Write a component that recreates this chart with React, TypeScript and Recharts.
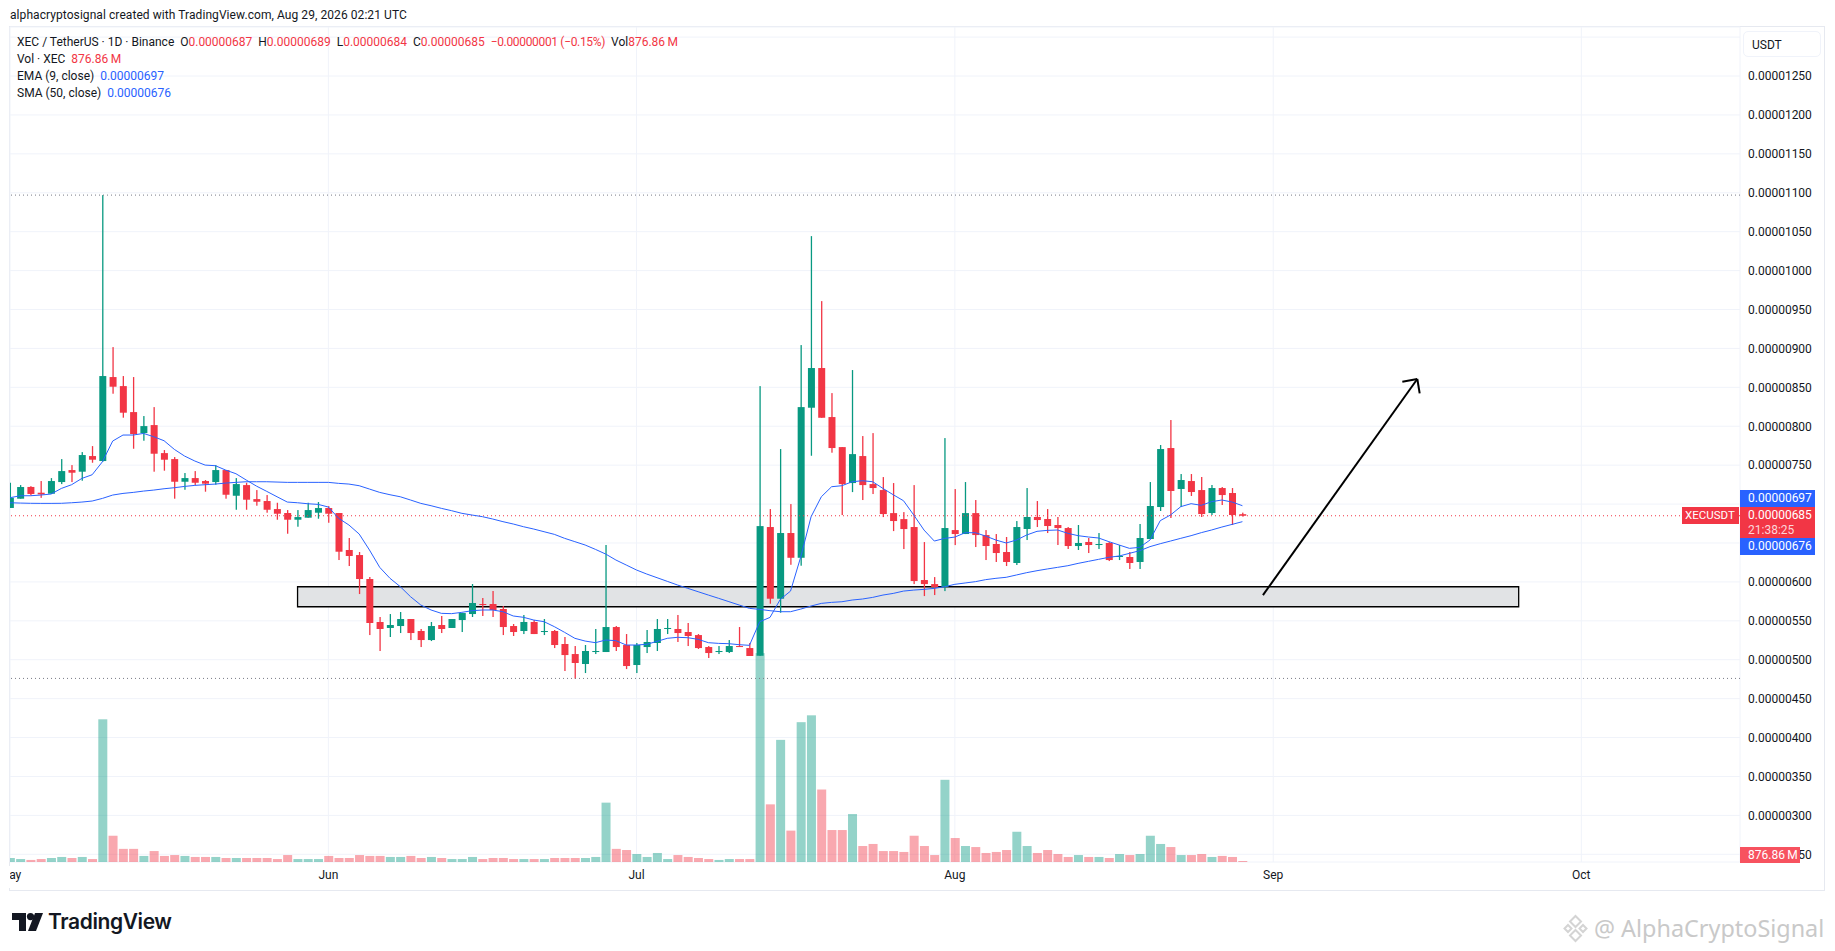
import {
	ComposedChart,
	Bar,
	Line,
	XAxis,
	YAxis,
	CartesianGrid,
	ReferenceLine,
	ReferenceArea,
} from "recharts";

// prices are in units of 0.00000001, one entry per day starting on May 1
const opens = [
	695, 706.9, 722, 714.6, 713.3, 728.3, 743.7, 741.6, 761.7, 755.3, 863.2, 851.6, 818.2, 791.2, 801.5, 765.5, 757.8, 728.7, 733.4, 729.6,
	728.3, 743.7, 710.7, 724.4, 706.4, 703.9, 693.6, 688.5, 679.9, 682.5, 688.9, 694.9, 688.5, 641, 634.5, 603.7, 548.5, 540.8, 543.3, 552.3,
	536.9, 525.3, 544.6, 540.8, 551, 558.7, 571.6, 571.6, 565.2, 543.3, 536.9, 548.5, 535.6, 536.9, 520.2, 507.3, 494.5, 509.9, 509.9, 542,
	518.9, 493.2, 516.3, 521.5, 539.5, 539.5, 535.6, 531.7, 516.3, 509.9, 509.9, 517.6, 515, 505.1, 670.5, 578.4, 662.8, 631, 823.8, 874.8,
	811.8, 773.2, 727, 761.7, 725.7, 718, 688.4, 680.7, 670.5, 602.4, 597.2, 593.4, 666.6, 661.5, 688.4, 660.2, 648.7, 638.4, 624.3, 668,
	683.4, 680.8, 673.1, 669.2, 646.1, 651.3, 647.4, 650, 632, 632, 625.6, 655.1, 696.2, 772, 719.4, 729.6, 718, 688.5, 720.6, 714.2, 687,
];
const highs = [
	727.4, 724.4, 723, 729.6, 733.4, 757.8, 750.1, 766.8, 774.5, 1097, 901.7, 864.5, 863.2, 813.1, 824.6, 769.4, 760.4, 739.9, 742.4, 730.9,
	750.1, 743.7, 733.4, 727.4, 718, 711.6, 701.7, 692.3, 692.3, 701.7, 702.6, 697.4, 688.5, 656.4, 638.4, 606.3, 554.9, 558.7, 561.3, 552.3,
	539.5, 548.5, 556.2, 552.3, 560, 597.3, 579.3, 588.3, 569, 545.9, 557.5, 551, 552.3, 538.2, 529.2, 517.6, 518.9, 539.5, 647.4, 543.3,
	533, 521.5, 538.2, 552.3, 552.3, 557.5, 547.2, 533, 517.6, 517.6, 525.3, 542, 521.5, 851.6, 693.6, 770.7, 700, 904.3, 1044.3, 960.8,
	842.6, 773.2, 872.2, 787.4, 791.2, 734.7, 727, 689.7, 724.4, 651.2, 606.2, 784.8, 719.3, 728.3, 705.2, 666.6, 661.5, 657.7, 678.2, 720.6,
	703.9, 693.6, 683.4, 670.5, 673.1, 656.4, 662.8, 651.3, 647.4, 638.4, 674.4, 728.3, 775.9, 808, 738.6, 738.6, 734.8, 724.5, 721.9, 720.6, 689,
];
const lows = [
	695, 707, 711, 708, 713, 725.7, 728.3, 730, 753.1, 754.4, 841.8, 811, 771.1, 781.4, 741.6, 742.9, 706.9, 718.4, 724.4, 715.9,
	724.9, 706.9, 692.7, 692.7, 697.9, 688.9, 679.9, 661.9, 670.9, 682.5, 681.2, 676, 628.1, 620.4, 584.4, 531.7, 511.2, 529.2, 534.3, 525.3,
	516.3, 524, 534.3, 540.8, 535.6, 554.9, 556.2, 554.9, 531.7, 530.5, 533, 533, 531.7, 515, 485.5, 475.6, 482.9, 507.3, 509.9, 511.2,
	488, 482.9, 508.6, 511.2, 533, 522.8, 517.6, 513.8, 502.2, 507.3, 508.6, 516.3, 504.8, 505, 572, 560.4, 622, 620.8, 762.1, 810.9,
	766, 685.9, 715.4, 705.2, 712.9, 683.3, 665.3, 642.2, 597.2, 581.8, 583.1, 588.2, 647.3, 661.5, 644.8, 628.1, 625.6, 620.4, 621.7, 653.8,
	670.5, 662.8, 647.4, 642.3, 641, 637.1, 642.3, 626.8, 628.1, 616.6, 616.6, 655.1, 691.1, 682.1, 696.2, 710.4, 683.4, 686, 698.8, 673.1, 684,
];
const closes = [
	708.2, 721.9, 713, 712.4, 729.6, 742.4, 740.3, 763, 757, 864.5, 850.8, 817.4, 790, 800.2, 764.7, 757, 728.7, 733.4, 727.4, 726.2,
	743.7, 712, 725.7, 705.6, 703, 692.7, 687.6, 679.9, 683.3, 692.3, 694.9, 687.6, 638.8, 633.3, 603.7, 547.2, 539.5, 544.6, 552.3, 534.3,
	525.3, 543.3, 539.5, 552.3, 560, 572.9, 570.3, 563.9, 542, 535.6, 548.5, 533, 536.9, 518.9, 506, 495.8, 511.2, 511.2, 542, 516.3,
	491.9, 518.9, 522.8, 539.5, 540.8, 534.3, 530.5, 515, 508.6, 511.2, 517.6, 516.3, 504.8, 671.7, 578.4, 662.8, 631, 824.6, 874.8, 810.9,
	772, 725.7, 764.2, 724.4, 720.6, 687.2, 678.2, 667.9, 601.1, 597.2, 593.4, 669.2, 661.5, 688.4, 660.2, 646.1, 637.1, 625.6, 670.5, 683.4,
	679.5, 671.8, 669.2, 646.1, 650, 647.4, 648.7, 628.1, 633.3, 624.3, 656.4, 697.5, 770.7, 716.8, 730.9, 715.5, 687.2, 720.6, 711.6, 686, 685,
];
const ema9 = [
	708.2, 710.7, 710.7, 711.6, 712.9, 720.1, 724.9, 733, 737.7, 754.4, 781, 788.7, 788.7, 790.8, 786.5, 781.4, 770.3, 761.7, 755.3, 750.1,
	749.3, 743.7, 739, 730.9, 723.1, 716.3, 709.4, 702.6, 701.7, 700.4, 699.6, 696.2, 681.7, 673.1, 661.5, 641, 618.7, 604.6, 593.9, 581,
	570.3, 563.9, 559.6, 559.2, 560.9, 563, 563.9, 563.9, 561.7, 556.2, 554.5, 551, 548.9, 542.5, 535.2, 527.5, 524, 521.9, 525.3, 524.5,
	518.9, 518.9, 519.8, 523.6, 527.5, 528.8, 528.3, 526.2, 521.9, 521, 520.6, 519.3, 518.5, 548.8, 554.4, 577.5, 588.2, 632.3, 683.7, 709.4,
	722.3, 723.6, 728.7, 730, 728.7, 720.1, 712, 704.3, 685.9, 666.6, 652.5, 655.9, 657.6, 663.2, 663.2, 658.9, 653.8, 650, 653.8, 660.3,
	665, 666.2, 666.7, 662.4, 659.4, 657.7, 656.4, 651.7, 647.4, 643.1, 644.4, 653.8, 678.7, 686, 696.7, 700.5, 698.4, 703.1, 705.2, 702.6, 697.9,
];
const sma50 = [
	701.7, 701.3, 701, 700.9, 700.9, 701, 701.7, 702.6, 703.9, 707.3, 711.6, 713.7, 715, 716.7, 718, 719.7, 721, 722.7, 724, 724.9,
	725.7, 727, 727.9, 728.7, 728.7, 728.7, 728.3, 727.9, 727.9, 727.9, 727.9, 727.9, 726.6, 725.7, 723.6, 719.3, 715, 712, 709.4, 705.2,
	700.9, 697.9, 694.5, 691.5, 688.1, 685.9, 683.8, 680.8, 677.4, 674.4, 670.9, 667.9, 664.5, 661.1, 656, 651.7, 647.4, 641.8, 635.8, 628.1,
	621.7, 615.3, 610.1, 605.4, 600.7, 596, 591.7, 587.4, 583.1, 578.9, 574.6, 570.3, 566, 564.7, 563, 561.7, 561.7, 565.1, 569, 572.4,
	573.7, 574.5, 576.7, 578, 580.1, 583.1, 585.2, 588.2, 589.5, 590.4, 591.7, 593.8, 596.9, 598.6, 600.3, 602.9, 604.6, 605.9, 608.9, 611.9,
	614.4, 616.6, 618.7, 620.8, 623.8, 626.4, 629, 631.6, 633.3, 636.7, 640.1, 645.3, 649.1, 652.5, 656, 659.4, 663.3, 666.7, 670.5, 673.9, 677.4,
];
// volume in billions of XEC
const volumes = [
	3.5, 2.6, 1.8, 2.6, 3.5, 4.4, 3.5, 4.4, 2.6, 125, 23, 11.5, 11.5, 5.3, 9.6, 5.3, 6.1, 5.3, 4.4, 4.4,
	4.4, 3.5, 3.5, 3.5, 3.5, 3.5, 2.6, 6.1, 2.6, 2.6, 2.6, 5.3, 3.5, 3.5, 6.1, 5.3, 5.3, 4.4, 4.4, 5.3,
	3.5, 4.4, 3.5, 2.6, 2.6, 4.4, 2.6, 3.5, 3.5, 2.6, 2.6, 2.6, 2.6, 3.5, 3.5, 3.5, 3.5, 4.4, 52, 11.5,
	10.5, 7, 4.4, 7.9, 2.6, 6.1, 4.4, 3.5, 2.6, 1.8, 2.6, 2.6, 2.6, 183, 50.5, 107, 27.5, 122.5, 128.5, 63.5,
	28, 28, 42, 14, 15.8, 9.6, 9.6, 8.8, 23, 14, 6.1, 72, 21, 14, 13.1, 7.9, 8.8, 10.5, 26.5, 14,
	7.9, 10.5, 7, 4.4, 6.1, 4.4, 4.4, 3.5, 7, 6.1, 7, 23, 15.8, 13.1, 6.1, 6.1, 7, 4.4, 5.3, 4.4, 0.877,
];

const priceTicks = [
	250, 300, 350, 400, 450, 500, 550, 600, 650, 700, 750, 800, 850, 900, 950, 1000, 1050, 1100, 1150, 1200, 1250, 1300,
];
// these keep their gridline, but the price tags and the USDT box sit where the label would be
const hiddenPriceLabels = [650, 700, 1300];
// days since May 1
const monthTicks = [0, 31, 61, 92, 123, 153];
const monthLabels = ["May", "Jun", "Jul", "Aug", "Sep", "Oct"];

const GREEN = "#089981";
const RED = "#F23645";
const BLUE = "#2962FF";
const FONT = "Roboto, sans-serif";

const rows = opens.map((open, day) => ({
	day,
	open,
	high: highs[day],
	low: lows[day],
	close: closes[day],
	ema: ema9[day],
	sma: sma50[day],
	volume: volumes[day],
}));

function Candle(props: any) {
	const { x, y, width, height, payload } = props;
	const fill = payload.close >= payload.open ? GREEN : RED;
	const perUnit = height / (payload.high - payload.low || 1);
	const top = y + (payload.high - Math.max(payload.open, payload.close)) * perUnit;
	const bodyH = Math.max(Math.abs(payload.open - payload.close) * perUnit, 1);
	const cx = x + width / 2;
	return (
		<g>
			<rect x={cx - 0.65} y={y} width={1.3} height={height} fill={fill} />
			<rect x={cx - 3.5} y={top} width={7} height={bodyH} fill={fill} />
		</g>
	);
}

function VolumeBar(props: any) {
	const { x, y, width, height, payload } = props;
	const fill = payload.close >= payload.open ? GREEN : RED;
	return <rect x={x} y={y} width={width} height={height} fill={fill} fillOpacity={0.43} />;
}

function formatPrice(v: number) {
	if (hiddenPriceLabels.includes(v)) return "";
	return (v / 1e8).toFixed(8);
}

function Tag({ top, height, left = 1740, width = 75, pad = 8, bg, children }: any) {
	return (
		<div
			style={{
				position: "absolute",
				left,
				top,
				width,
				height,
				background: bg,
				color: "#fff",
				fontSize: 12,
				lineHeight: "17px",
				paddingLeft: pad,
				boxSizing: "border-box",
				whiteSpace: "pre",
			}}
		>
			{children}
		</div>
	);
}

function LegendRow({ top, children }: any) {
	return (
		<div style={{ position: "absolute", left: 17, top, fontSize: 12, lineHeight: "16px", color: "#131722", whiteSpace: "pre" }}>
			{children}
		</div>
	);
}

export default function App() {
	return (
		<div style={{ position: "absolute", left: 0, top: 0, width: 1835, height: 951, background: "#fff", fontFamily: FONT, overflow: "hidden" }}>
			<div style={{ position: "absolute", left: 10, top: 7, fontSize: 12, lineHeight: "16px", letterSpacing: 0.07, color: "#131722", whiteSpace: "pre" }}>
				alphacryptosignal created with TradingView.com, Aug 29, 2026 02:21 UTC
			</div>
			<div style={{ position: "absolute", left: 9, top: 26, width: 1816, height: 865, border: "1px solid #E6E9F0", boxSizing: "border-box" }} />

			<div style={{ position: "absolute", left: 0, top: 0 }}>
				<ComposedChart
					width={1835}
					height={951}
					data={rows}
					barGap={-9}
					barSize={9}
					margin={{ top: 27, right: 10, bottom: 59, left: 10 }}
				>
					<CartesianGrid stroke="#F0F3FA" yAxisId="price" />
					<XAxis
						type="number"
						dataKey="day"
						domain={[0, 168.45]}
						allowDataOverflow
						ticks={monthTicks}
						tickFormatter={(v) => monthLabels[monthTicks.indexOf(v)]}
						axisLine={false}
						tickLine={false}
						height={30}
						interval={0}
						tick={{ fill: "#131722", fontSize: 12, fontFamily: FONT }}
					/>
					<YAxis
						yAxisId="price"
						orientation="right"
						domain={[240.1, 1313]}
						ticks={priceTicks}
						tickFormatter={formatPrice}
						axisLine={false}
						tickLine={false}
						width={85}
						interval={0}
						tick={{ fill: "#131722", fontSize: 12, fontFamily: FONT }}
					/>
					<YAxis yAxisId="vol" hide domain={[0, 731.5]} />

					<ReferenceArea
						yAxisId="price"
						x1={28}
						x2={146.9}
						y1={568.1}
						y2={593.8}
						fill="#E1E3E5"
						fillOpacity={1}
						stroke="#000"
						strokeWidth={1.3}
					/>
					<ReferenceLine yAxisId="price" y={1097} stroke="#787B86" strokeDasharray="1 3" />
					<ReferenceLine yAxisId="price" y={476} stroke="#787B86" strokeDasharray="1 3" />
					<ReferenceLine yAxisId="price" y={685} stroke={RED} strokeDasharray="1 3" />

					<Bar yAxisId="vol" dataKey="volume" shape={VolumeBar} isAnimationActive={false} />
					<Bar yAxisId="price" dataKey={(d: any) => [d.low, d.high]} shape={Candle} isAnimationActive={false} />
					<Line yAxisId="price" dataKey="sma" stroke={BLUE} strokeWidth={1} dot={false} isAnimationActive={false} />
					<Line yAxisId="price" dataKey="ema" stroke={BLUE} strokeWidth={1} dot={false} isAnimationActive={false} />

					<ReferenceLine yAxisId="price" segment={[{ x: 122, y: 583.1 }, { x: 137.03, y: 860.7 }]} stroke="#000" strokeWidth={2} />
					<ReferenceLine yAxisId="price" segment={[{ x: 135.57, y: 857.2 }, { x: 137.03, y: 860.7 }]} stroke="#000" strokeWidth={2} />
					<ReferenceLine yAxisId="price" segment={[{ x: 137.26, y: 842.3 }, { x: 137.03, y: 860.7 }]} stroke="#000" strokeWidth={2} />
				</ComposedChart>
			</div>

			{/* plot clips the first month label at its left edge */}
			<div style={{ position: "absolute", left: 0, top: 866, width: 10, height: 22, background: "#fff" }} />

			<LegendRow top={34}>
				{"XEC / TetherUS · 1D · Binance  O"}
				<span style={{ color: RED }}>0.00000687</span>
				{"  H"}
				<span style={{ color: RED }}>0.00000689</span>
				{"  L"}
				<span style={{ color: RED }}>0.00000684</span>
				{"  C"}
				<span style={{ color: RED }}>0.00000685  </span>
				<span style={{ color: RED, letterSpacing: -0.33 }}>−0.00000001 (−0.15%)</span>
				{"  Vol"}
				<span style={{ color: RED }}>876.86{"\u2009"}M</span>
			</LegendRow>
			<LegendRow top={51}>
				{"Vol · XEC  "}
				<span style={{ color: RED }}>876.86{"\u2009"}M</span>
			</LegendRow>
			<LegendRow top={68}>
				{"EMA (9, close)  "}
				<span style={{ color: BLUE }}>0.00000697</span>
			</LegendRow>
			<LegendRow top={85}>
				{"SMA (50, close)  "}
				<span style={{ color: BLUE }}>0.00000676</span>
			</LegendRow>

			<div
				style={{
					position: "absolute",
					left: 1743,
					top: 31,
					width: 78,
					height: 26,
					border: "1px solid #F0F3FA",
					borderRadius: 5,
					boxSizing: "border-box",
					fontSize: 12,
					lineHeight: "26px",
					paddingLeft: 8,
					color: "#131722",
					background: "#fff",
				}}
			>
				USDT
			</div>

			<Tag top={490} height={17} bg={BLUE}>0.00000697</Tag>
			<Tag top={507} height={31} bg={RED}>
				0.00000685
				<div style={{ color: "#FBD5D9", marginTop: -2 }}>21:38:25</div>
			</Tag>
			<Tag top={538} height={17} bg={BLUE}>0.00000676</Tag>
			<Tag top={507} height={17} left={1682} width={57} pad={3} bg={RED}>
				<span style={{ fontSize: 11.5 }}>XECUSDT</span>
			</Tag>
			<Tag top={847} height={16} width={60} bg="#F7525F">
				<span style={{ lineHeight: "16px" }}>876.86{"\u2009"}M</span>
			</Tag>

			<svg style={{ position: "absolute", left: 12, top: 913 }} width={32} height={18} viewBox="0 0 32 18">
				<path d="M0 0H14V18H7V7H0Z" fill="#131722" />
				<circle cx={18.5} cy={3.6} r={3.6} fill="#131722" />
				<path d="M23 0H31L24 18H16Z" fill="#131722" />
			</svg>
			<div style={{ position: "absolute", left: 48, top: 908, fontSize: 21, lineHeight: "28px", fontWeight: 600, fontFamily: "Inter, sans-serif", color: "#131722", letterSpacing: -0.4 }}>
				TradingView
			</div>

			<svg style={{ position: "absolute", left: 1561, top: 914 }} width={29} height={29} viewBox="0 0 29 29">
				<g fill="none" stroke="#D4D4D4" strokeWidth={2}>
					<path d="M14.5 2L20 7.5L14.5 13L9 7.5Z" />
					<path d="M7 11L10.5 14.5L7 18L3.5 14.5Z" />
					<path d="M22 11L25.5 14.5L22 18L18.5 14.5Z" />
					<path d="M14.5 16L20 21.5L14.5 27L9 21.5Z" />
				</g>
			</svg>
			<div style={{ position: "absolute", left: 1594, top: 912, fontSize: 23.4, lineHeight: "32px", color: "#C9C9C9", fontFamily: "'Noto Sans', sans-serif", whiteSpace: "pre" }}>
				@ AlphaCryptoSignal
			</div>
		</div>
	);
}
